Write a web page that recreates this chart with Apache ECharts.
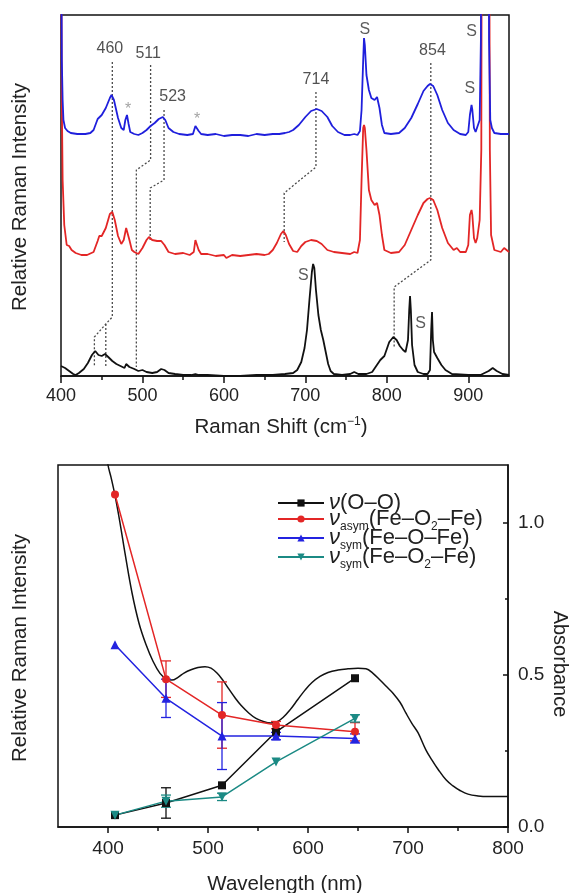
<!DOCTYPE html>
<html>
<head>
<meta charset="utf-8">
<script src="https://cdn.jsdelivr.net/npm/echarts@6/dist/echarts.min.js"></script>
<style>
  html, body { margin: 0; padding: 0; background: #fff; }
  #chart { width: 575px; height: 893px; }
</style>
</head>
<body>
<div id="chart"></div>
<script>
// ---------- Raman spectra (shift in cm^-1, intensity in arbitrary stacked units) ----------
const blueSpectrum = [
  [400,500],[401,316],[402,276],[403,256],[405,248],[408,245],[412,243],[420,242],[430,242],[436,243],
  [440,246],[445,257],[450,261],[455,268],[460,278],[462,281],[465,276],[470,258],[474,248],[477,246],
  [479,256],[481,261],[483,252],[485,244],[490,242],[495,241],[500,243],[505,246],[510,250],[515,253],
  [520,257],[525,259],[528,256],[532,248],[538,244],[545,242],[555,241],[562,242],[565,250],[567,252],
  [569,245],[572,242],[580,241],[590,242],[600,240],[610,241],[620,241],[630,240],[640,242],[650,241],
  [660,242],[668,242],[675,243],[680,244],[685,246],[692,251],[700,259],[707,265],[714,267],[720,265],
  [727,259],[733,250],[740,244],[748,241],[755,241],[760,242],[764,241],[767,245],[769,266],[771,316],
  [772,338],[773,331],[775,301],[778,286],[781,278],[785,276],[788,279],[791,268],[794,251],[797,243],
  [805,242],[815,243],[822,248],[830,258],[838,272],[845,285],[850,290],[853,292],[857,290],[862,281],
  [868,266],[875,253],[882,246],[890,242],[897,241],[900,244],[902,261],[904,271],[905,266],[907,248],
  [909,244],[911,246],[914,256],[915.5,336],[916.5,700],[924.5,700],[925.5,336],[927,256],[929,248],
  [932,243],[940,242],[950,242]
];
const redSpectrum = [
  [400,500],[401,276],[402,196],[404,151],[407,131],[410,130],[413,126],[418,123],[425,121],[432,121],
  [440,124],[445,135],[447,140],[450,140],[455,148],[460,162],[463,164],[466,156],[470,140],[474,132],
  [477,136],[480,148],[482,150],[484,136],[487,126],[490,124],[495,122],[500,128],[505,136],[508,139],
  [512,136],[518,135],[523,135],[527,131],[532,124],[540,122],[550,123],[558,121],[563,124],[565,136],
  [567,138],[569,126],[572,122],[580,122],[590,120],[600,121],[603,118],[610,121],[620,120],[630,121],
  [640,122],[650,121],[655,122],[660,126],[665,133],[670,142],[673,145],[676,141],[680,132],[685,125],
  [690,124],[695,130],[700,134],[707,136],[714,135],[720,132],[727,126],[735,124],[745,123],[755,122],
  [760,124],[764,123],[767,136],[769,196],[771,248],[772,251],[773,248],[775,226],[778,186],[781,176],
  [785,171],[788,173],[791,161],[794,141],[797,126],[805,123],[815,124],[822,131],[830,146],[838,161],
  [845,173],[850,177],[853,178],[857,176],[862,166],[868,148],[875,133],[882,126],[886,128],[890,124],
  [897,124],[900,131],[902,161],[904,166],[905,161],[907,138],[909,133],[911,138],[914,156],[916,226],
  [917,700],[925,700],[926.5,226],[928,141],[932,126],[940,124],[944,128],[946,126],[950,124]
];
const blackSpectrum = [
  [400,10],[405,8],[410,5],[415,2],[418,1],[422,3],[428,7],[433,13],[438,21],[442,25],
  [446,21],[450,20],[454,22],[458,19],[463,15],[468,12],[473,10],[478,8],[480,12],[482,14],
  [484,9],[490,7],[495,5],[500,6],[505,4],[512,3],[518,4],[523,7],[527,6],[532,3],
  [540,2],[550,1],[560,1],[565,2],[567,4],[569,1],[580,1],[600,0],[620,0],[640,1],
  [660,1],[675,2],[685,3],[690,6],[695,14],[699,28],[702,46],[705,76],[708,104],[709.5,112],
  [711,108],[713,86],[716,61],[719,46],[722,36],[725,24],[728,12],[731,5],[735,2],[745,1],
  [755,2],[760,4],[765,2],[775,2],[782,4],[787,10],[792,16],[797,20],[803,34],[808,39],
  [812,36],[816,30],[820,26],[823,24],[826,36],[827.5,66],[828.5,80],[829.5,66],[831,31],[834,11],
  [838,4],[845,2],[850,2],[853,6],[854.5,46],[855.5,64],[856.5,36],[858,24],[862,18],[867,11],
  [872,6],[880,2],[900,1],[915,1],[925,5],[930,8],[935,5],[942,2],[950,1]
];

// Dotted correlation guides between the three spectra
const guide460 = [[463,314],[463,59],[455,52],[441,39],[441,9]];
const guide455 = [[455,52],[455,8]];
const guide511 = [[510,311],[510,216],[492.5,206],[492.5,9]];
const guide523 = [[526.5,266],[526.5,196],[509.5,188],[509.5,136]];
const guide714 = [[713,284],[713,209],[674,183],[674,134]];
const guide854 = [[854,313],[854,116],[809,89],[809,29]];

// Peak annotations
const peakLabels = [
  { name: '460', value: [460, 327] },
  { name: '511', value: [507, 322] },
  { name: '523', value: [537, 279] },
  { name: '714', value: [713, 296] },
  { name: '854', value: [856, 325] }
];
const solventLabels = [
  { name: 'S', value: [773, 346] },
  { name: 'S', value: [904, 344] },
  { name: 'S', value: [902, 287] },
  { name: 'S', value: [697.5, 100] },
  { name: 'S', value: [841.5, 52] }
];
const starLabels = [
  { name: '*', value: [482.5, 266] },
  { name: '*', value: [567, 256] }
];

// ---------- Excitation profiles ----------
const excitation = [407, 458, 514, 568, 647];
const nuOO        = [0.039, 0.079, 0.137, 0.313, 0.489];
const nuOOErr     = [0, 0.05, 0, 0, 0];
const nuAsym      = [1.093, 0.486, 0.368, 0.335, 0.313];
const nuAsymErr   = [0, 0.06, 0.109, 0.012, 0.03];
const nuSymFeOFe  = [0.599, 0.423, 0.299, 0.299, 0.291];
const nuSymFeOFeErr = [0, 0.063, 0.11, 0.012, 0.015];
const nuSymFeO2Fe = [0.039, 0.085, 0.099, 0.214, 0.357];
const nuSymFeO2FeErr = [0, 0.02, 0.012, 0, 0.012];

// Absorption spectrum (wavelength nm, absorbance)
const absorbance = [
  [398,1.25],[400,1.19],[403,1.15],[407,1.09],[412,1.0],[417,0.9],[424,0.77],[431,0.67],[438,0.6],
  [445,0.545],[452,0.505],[458,0.488],[464,0.483],[470,0.492],[476,0.506],[483,0.517],[490,0.524],
  [497,0.527],[503,0.522],[509,0.506],[515,0.482],[521,0.453],[527,0.425],[533,0.4],[541,0.374],
  [548,0.357],[556,0.346],[563,0.342],[569,0.346],[575,0.36],[582,0.385],[590,0.42],[597,0.45],
  [604,0.475],[612,0.495],[620,0.508],[630,0.516],[640,0.52],[650,0.522],[658,0.52],[665,0.505],
  [672,0.483],[679,0.46],[685,0.44],[692,0.41],[698,0.374],[704,0.34],[710,0.31],[718,0.253],
  [724,0.22],[730,0.19],[738,0.155],[745,0.135],[752,0.12],[760,0.108],[770,0.102],[780,0.1],
  [790,0.1],[800,0.1]
];

// Tick values
const topMajorTicks = [400, 500, 600, 700, 800, 900];
const topMinorTicks = [450, 550, 650, 750, 850];
const bottomMajorTicks = [400, 500, 600, 700, 800];
const bottomMinorTicks = [450, 550, 650, 750];
const absMajorTicks = [0, 0.5, 1.0];
const absMinorTicks = [0.25, 0.75];

const FONT = '"Liberation Sans", Arial, Helvetica, sans-serif';
const INK = '#111';
const TXT = '#222';

const chart = echarts.init(document.getElementById('chart'), null, { renderer: 'canvas' });

function guideSeries(points) {
  return {
    type: 'line', xAxisIndex: 0, yAxisIndex: 0, data: points,
    symbol: 'none', silent: true, z: 1, animation: false,
    lineStyle: { color: '#4a4a4a', width: 1.3, type: [2, 2] }
  };
}
function spectrumSeries(name, points, color) {
  return {
    name, type: 'line', xAxisIndex: 0, yAxisIndex: 0, data: points,
    symbol: 'none', silent: true, z: 2, animation: false, clip: true,
    lineStyle: { color, width: 1.8 }
  };
}
function textSeries(items, size, color) {
  return {
    type: 'scatter', xAxisIndex: 0, yAxisIndex: 0, data: items,
    symbolSize: 1, itemStyle: { color: 'rgba(0,0,0,0)' }, silent: true, z: 5, animation: false,
    label: {
      show: true, position: 'inside', formatter: p => p.name,
      fontSize: size, color, fontFamily: FONT
    }
  };
}
function errorSeries(values, errs, color) {
  return {
    type: 'custom', xAxisIndex: 2, yAxisIndex: 1, silent: true, z: 3, animation: false,
    data: excitation.map((x, i) => [x, values[i], errs[i]]),
    encode: { x: 0, y: 1 },
    renderItem: (params, api) => {
      const x = api.value(0), y = api.value(1), e = api.value(2);
      if (!e) return { type: 'group', children: [] };
      const hi = api.coord([x, y + e]);
      const lo = api.coord([x, y - e]);
      const w = 5;
      const style = { stroke: color, lineWidth: 1.3 };
      return {
        type: 'group',
        children: [
          { type: 'line', shape: { x1: hi[0], y1: hi[1], x2: lo[0], y2: lo[1] }, style },
          { type: 'line', shape: { x1: hi[0] - w, y1: hi[1], x2: hi[0] + w, y2: hi[1] }, style },
          { type: 'line', shape: { x1: lo[0] - w, y1: lo[1], x2: lo[0] + w, y2: lo[1] }, style }
        ]
      };
    }
  };
}
function profileSeries(name, values, color, symbol, size) {
  return {
    name, type: 'line', xAxisIndex: 2, yAxisIndex: 1,
    data: excitation.map((x, i) => [x, values[i]]),
    symbol, symbolSize: size, showSymbol: true, z: 4, animation: false,
    itemStyle: { color, borderWidth: 0 },
    lineStyle: { color, width: 1.5 }
  };
}

const NAME_OO = 'nu(O-O)';
const NAME_ASYM = 'nu_asym(Fe-O2-Fe)';
const NAME_SYM_O = 'nu_sym(Fe-O-Fe)';
const NAME_SYM_O2 = 'nu_sym(Fe-O2-Fe)';
const legendText = {
  [NAME_OO]: '{g|ν}{n|(O–O)}',
  [NAME_ASYM]: '{g|ν}{s|asym}{n|(Fe–O}{s|2}{n|–Fe)}',
  [NAME_SYM_O]: '{g|ν}{s|sym}{n|(Fe–O–Fe)}',
  [NAME_SYM_O2]: '{g|ν}{s|sym}{n|(Fe–O}{s|2}{n|–Fe)}'
};

const majorTickStyle = { color: INK, width: 1.5 };

const option = {
  backgroundColor: '#fff',
  animation: false,
  grid: [
    { left: 61, top: 15, width: 448, height: 361, show: true, borderColor: INK, borderWidth: 1.5, containLabel: false },
    { left: 58, top: 465, width: 450, height: 362, show: true, borderColor: INK, borderWidth: 1.5, containLabel: false }
  ],
  xAxis: [
    {
      gridIndex: 0, type: 'value', min: 400, max: 950, position: 'bottom',
      axisLine: { show: true, lineStyle: majorTickStyle },
      axisTick: { show: true, inside: false, length: 7, customValues: topMajorTicks, lineStyle: majorTickStyle },
      axisLabel: { show: true, customValues: topMajorTicks, margin: 11, fontSize: 18, color: TXT, fontFamily: FONT },
      splitLine: { show: false }
    },
    {
      gridIndex: 0, type: 'value', min: 400, max: 950, position: 'bottom',
      axisLine: { show: false },
      axisTick: { show: true, inside: false, length: 4, customValues: topMinorTicks, lineStyle: majorTickStyle },
      axisLabel: { show: false },
      splitLine: { show: false }
    },
    {
      gridIndex: 1, type: 'value', min: 350, max: 800, position: 'bottom',
      axisLine: { show: true, lineStyle: majorTickStyle },
      axisTick: { show: true, inside: false, length: 6, customValues: bottomMajorTicks, lineStyle: majorTickStyle },
      axisLabel: { show: true, customValues: bottomMajorTicks, margin: 12, fontSize: 19, color: TXT, fontFamily: FONT },
      splitLine: { show: false }
    },
    {
      gridIndex: 1, type: 'value', min: 350, max: 800, position: 'bottom',
      axisLine: { show: false },
      axisTick: { show: true, inside: false, length: 4, customValues: bottomMinorTicks, lineStyle: majorTickStyle },
      axisLabel: { show: false },
      splitLine: { show: false }
    }
  ],
  yAxis: [
    { gridIndex: 0, type: 'value', min: 0, max: 361, show: false },
    { gridIndex: 1, type: 'value', min: 0, max: 1.19, show: false, position: 'left' },
    {
      gridIndex: 1, type: 'value', min: 0, max: 1.19, position: 'right',
      axisLine: { show: true, lineStyle: majorTickStyle },
      axisTick: { show: true, inside: true, length: 5, customValues: absMajorTicks, lineStyle: majorTickStyle },
      axisLabel: { show: true, customValues: absMajorTicks, formatter: v => v.toFixed(1), margin: 10, fontSize: 19, color: TXT, fontFamily: FONT },
      splitLine: { show: false }
    },
    {
      gridIndex: 1, type: 'value', min: 0, max: 1.19, position: 'right',
      axisLine: { show: false },
      axisTick: { show: true, inside: true, length: 3, customValues: absMinorTicks, lineStyle: majorTickStyle },
      axisLabel: { show: false },
      splitLine: { show: false }
    }
  ],
  legend: {
    data: [NAME_OO, NAME_ASYM, NAME_SYM_O, NAME_SYM_O2],
    orient: 'vertical', left: 272, top: 487, padding: 5,
    itemWidth: 46, itemHeight: 9, itemGap: -6,
    selectedMode: false,
    formatter: name => legendText[name],
    textStyle: {
      color: TXT, fontFamily: FONT, fontSize: 22,
      rich: {
        g: { fontSize: 22, fontFamily: FONT, color: TXT, fontStyle: 'italic', lineHeight: 28, verticalAlign: 'middle' },
        n: { fontSize: 22, fontFamily: FONT, color: TXT, lineHeight: 28, verticalAlign: 'middle' },
        s: { fontSize: 12, fontFamily: FONT, color: TXT, lineHeight: 13, verticalAlign: 'bottom' }
      }
    }
  },
  graphic: [
    {
      type: 'text', x: 20, y: 197, rotation: Math.PI / 2, silent: true,
      style: { text: 'Relative Raman Intensity', font: '20.5px ' + FONT, fill: TXT, align: 'center', verticalAlign: 'middle' }
    },
    {
      type: 'text', x: 281, y: 427, silent: true,
      style: {
        text: '{n|Raman Shift (cm}{p|−1}{n|)}', align: 'center', verticalAlign: 'middle', fill: TXT,
        rich: {
          n: { fontSize: 20.5, fontFamily: FONT, fill: TXT, lineHeight: 22, padding: [4, 0, 0, 0], verticalAlign: 'bottom' },
          p: { fontSize: 12, fontFamily: FONT, fill: TXT, lineHeight: 13, verticalAlign: 'top' }
        }
      }
    },
    {
      type: 'text', x: 20, y: 648, rotation: Math.PI / 2, silent: true,
      style: { text: 'Relative Raman Intensity', font: '20.5px ' + FONT, fill: TXT, align: 'center', verticalAlign: 'middle' }
    },
    {
      type: 'text', x: 285, y: 884, silent: true,
      style: { text: 'Wavelength (nm)', font: '20.5px ' + FONT, fill: TXT, align: 'center', verticalAlign: 'middle' }
    },
    {
      type: 'text', x: 560, y: 664, rotation: -Math.PI / 2, silent: true,
      style: { text: 'Absorbance', font: '20px ' + FONT, fill: TXT, align: 'center', verticalAlign: 'middle' }
    }
  ],
  series: [
    guideSeries(guide460), guideSeries(guide455), guideSeries(guide511),
    guideSeries(guide523), guideSeries(guide714), guideSeries(guide854),
    spectrumSeries('black', blackSpectrum, '#111111'),
    spectrumSeries('red', redSpectrum, '#e32626'),
    spectrumSeries('blue', blueSpectrum, '#1f1fdc'),
    textSeries(peakLabels, 16, '#262626'),
    textSeries(solventLabels, 16, '#333333'),
    textSeries(starLabels, 16, '#8c8c8c'),
    {
      type: 'line', xAxisIndex: 2, yAxisIndex: 2, data: absorbance, smooth: 0.4,
      symbol: 'none', silent: true, z: 2, animation: false, clip: true,
      lineStyle: { color: '#111', width: 1.5 }
    },
    errorSeries(nuOO, nuOOErr, '#111111'),
    errorSeries(nuAsym, nuAsymErr, '#e32626'),
    errorSeries(nuSymFeOFe, nuSymFeOFeErr, '#2323e0'),
    errorSeries(nuSymFeO2Fe, nuSymFeO2FeErr, '#1b8a84'),
    profileSeries(NAME_OO, nuOO, '#111111', 'rect', 8),
    profileSeries(NAME_ASYM, nuAsym, '#e32626', 'circle', 8),
    profileSeries(NAME_SYM_O, nuSymFeOFe, '#2323e0', 'triangle', 9),
    profileSeries(NAME_SYM_O2, nuSymFeO2Fe, '#1b8a84', 'path://M0,0 L10,0 L5,9 Z', 9)
  ]
};

chart.setOption(option);
</script>
</body>
</html>
